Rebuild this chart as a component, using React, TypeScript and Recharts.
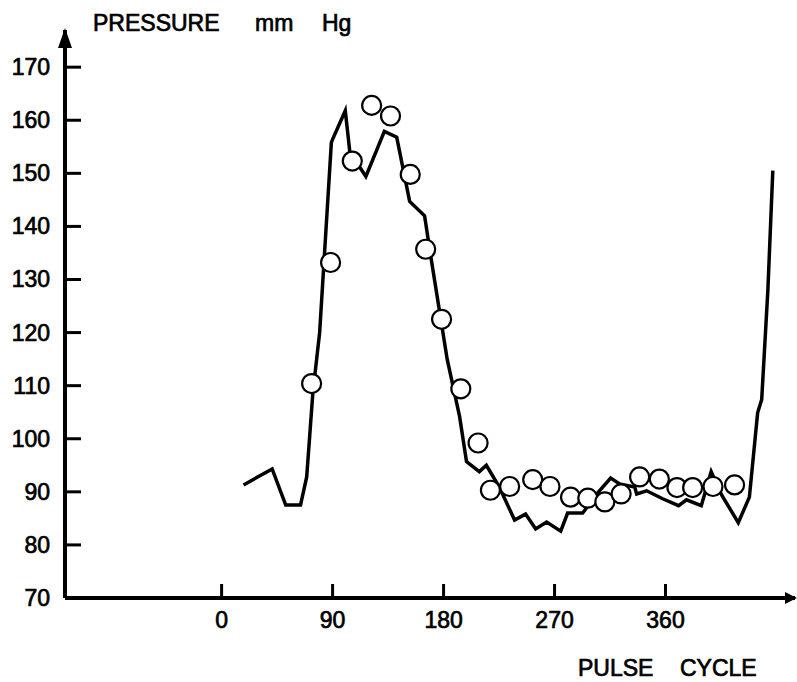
import { ScatterChart, Scatter, XAxis, YAxis, ReferenceDot } from 'recharts'

// solid trace (pulse cycle, mmHg)
const lineCycle = [
  17.8, 41, 52, 64, 69, 71.4, 74, 79.5, 89, 90, 100.3, 104, 117, 132, 142, 152.5, 164.6, 170, 183,
  193, 198.6, 209, 214.7, 225, 237.6, 246.5, 254.7, 263.6, 275, 280.6, 292.8, 305, 315.5, 322.8,
  335, 336.6, 344.7, 357.7, 370.6, 377, 389, 397, 405.5, 419, 428, 434.7, 438, 443, 447,
]
const linePressure = [
  91.3, 94.3, 87.5, 87.5, 92.8, 100.4, 108.7, 120, 155.8, 156.4, 161.8, 154, 149.4, 157.9, 156.8, 144.7, 142, 133.8, 114.9,
  104.2, 95.7, 93.8, 95, 91, 84.7, 85.8, 83, 84.3, 82.6, 86, 86, 89.8, 92.6, 91.5,
  90.9, 89.6, 90.2, 88.7, 87.4, 88.5, 87.4, 93.8, 89.4, 84.2, 89, 104.9, 107.4, 128, 150.5,
]

// open circles
const circleCycle = [
  73, 88.4, 106, 121.7, 137, 153, 165.5, 178.4, 194, 208, 218, 233.6, 252.3, 266.3, 283, 297,
  310.8, 324, 339, 355, 369.3, 382, 398.5, 416,
]
const circlePressure = [
  110.4, 133.2, 152.3, 162.8, 160.8, 149.8, 135.7, 122.5, 109.4, 99.2, 90.3, 91, 92.3, 91, 89, 88.8,
  88.1, 89.6, 92.8, 92.4, 90.8, 90.8, 91, 91.3,
]

const xTicks = [0, 90, 180, 270, 360]
const yTicks = [70, 80, 90, 100, 110, 120, 130, 140, 150, 160, 170]

const FONT = '"Liberation Sans", Arial, sans-serif'
const X_DOMAIN = [-127, 465]
const Y_DOMAIN = [70, 177]
const MARGIN = { top: 30, right: 2, bottom: 0, left: 5 }

const lineData = lineCycle.map((x, i) => ({ x, y: linePressure[i] }))
const circleData = circleCycle.map((x, i) => ({ x, y: circlePressure[i] }))

// tick labels (drawn on the data chart)
const yLabel = (p: any) => (
  <text x={p.x - 15} y={p.y} dy={8} textAnchor="end" fontSize={23} fontFamily={FONT} fill="#000" stroke="#000" strokeWidth={0.7}>
    {p.payload.value}
  </text>
)
const xLabel = (p: any) => (
  <text x={p.x} y={p.y} dy={30} textAnchor="middle" fontSize={23} fontFamily={FONT} fill="#000" stroke="#000" strokeWidth={0.7}>
    {p.payload.value}
  </text>
)

// inward tick marks (drawn on the overlay chart)
const yMark = (p: any) => <path d={`M${p.x},${p.y}h16`} stroke="#000" strokeWidth={3} fill="none" />
const xMark = (p: any) => <path d={`M${p.x},${p.y}v-14`} stroke="#000" strokeWidth={3} fill="none" />

const noDot = () => <g />

const ring = (p: any) => (
  <circle cx={p.cx} cy={p.cy} r={9.5} fill="#fff" stroke="#000" strokeWidth={2.2} />
)

const upArrow = (p: any) => (
  <polygon points={`${p.cx},${p.cy - 2} ${p.cx - 7},${p.cy + 18} ${p.cx + 7},${p.cy + 18}`} fill="#000" />
)

const rightArrow = (p: any) => (
  <polygon points={`${p.cx + 2},${p.cy} ${p.cx - 10},${p.cy - 6} ${p.cx - 10},${p.cy + 6}`} fill="#000" />
)

const label = (left: number, top: number) => ({
  position: 'absolute' as const,
  left,
  top,
  fontFamily: FONT,
  fontSize: 23,
  lineHeight: '23px',
  color: '#000',
  WebkitTextStroke: '0.7px #000',
  whiteSpace: 'nowrap' as const,
})

const layer = { position: 'absolute' as const, left: 0, top: 0 }

export default function App() {
  return (
    <div style={{ position: 'absolute', left: 0, top: 0, width: 797, height: 682, background: '#fff' }}>
      <div style={layer}>
        <ScatterChart width={797} height={682} margin={MARGIN}>
          <XAxis
            type="number"
            dataKey="x"
            domain={X_DOMAIN}
            ticks={xTicks}
            allowDataOverflow
            height={84}
            tickSize={0}
            tickMargin={0}
            tickLine={false}
            tick={xLabel}
            axisLine={false}
          />
          <YAxis
            type="number"
            dataKey="y"
            domain={Y_DOMAIN}
            ticks={yTicks}
            allowDataOverflow
            width={60}
            tickSize={0}
            tickMargin={0}
            tickLine={false}
            tick={yLabel}
            axisLine={false}
          />
          <Scatter
            data={lineData}
            line={{ stroke: '#000', strokeWidth: 3.5 }}
            lineJointType="linear"
            shape={noDot}
            isAnimationActive={false}
          />
          <Scatter data={circleData} shape={ring} isAnimationActive={false} />
          <ReferenceDot x={-127} y={177} ifOverflow="visible" shape={upArrow} />
          <ReferenceDot x={465} y={70} ifOverflow="visible" shape={rightArrow} />
        </ScatterChart>
      </div>
      <div style={{ ...layer, pointerEvents: 'none' }}>
        <ScatterChart width={797} height={682} margin={MARGIN}>
          <XAxis
            type="number"
            dataKey="x"
            domain={X_DOMAIN}
            ticks={xTicks}
            allowDataOverflow
            height={84}
            tickSize={0}
            tickMargin={0}
            tickLine={false}
            tick={xMark}
            axisLine={{ stroke: '#000', strokeWidth: 4 }}
          />
          <YAxis
            type="number"
            dataKey="y"
            domain={Y_DOMAIN}
            ticks={yTicks}
            allowDataOverflow
            width={60}
            tickSize={0}
            tickMargin={0}
            tickLine={false}
            tick={yMark}
            axisLine={{ stroke: '#000', strokeWidth: 4 }}
          />
          <Scatter data={[]} isAnimationActive={false} />
        </ScatterChart>
      </div>
      <div style={label(93, 12)}>PRESSURE</div>
      <div style={label(255, 12)}>mm</div>
      <div style={label(322, 12)}>Hg</div>
      <div style={label(578, 657)}>PULSE</div>
      <div style={label(680, 657)}>CYCLE</div>
    </div>
  )
}
